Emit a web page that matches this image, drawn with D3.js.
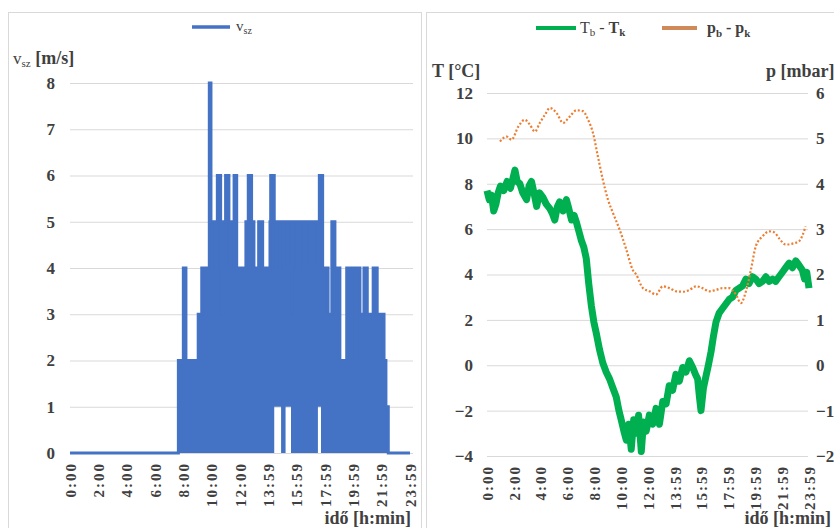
<!DOCTYPE html>
<html>
<head>
<meta charset="utf-8">
<script src="https://cdn.jsdelivr.net/npm/d3@7/dist/d3.min.js"></script>
<style>
body{margin:0;background:#fff;}
text{font-family:"Liberation Serif","Times New Roman",serif;}
</style>
</head>
<body>
<div id="chartplace"></div>
<script>
// time axis: minutes from midnight, labels as in the original
var tickMinutes = [0,120,240,360,480,600,720,840,960,1080,1200,1320,1440];
var tickLabels = ["0:00","2:00","4:00","6:00","8:00","10:00","12:00","13:59","15:59","17:59","19:59","21:59","23:59"];

// wind speed v_sz [m/s], step values (upper and lower edge of the drawn band)
var windMinute = [0,459,480,491,543,558,590,597,614,624,638,644,647,649,659,673,682,695,706,745,755,769,779,799,816,847,850,865,872,875,894,901,906,913,935,936,939,941,943,960,971,988,992,1013,1024,1047,1050,1056,1063,1070,1093,1109,1122,1143,1172,1207,1215,1228,1245,1259,1284,1301,1330,1338,1348,1440];
var windHigh   = [0,2,4,2,3,4,8,5,4,6,4,3,4,5,6,4,5,6,4,5,6,5,4,5,4,5,6,5,4,5,5,4,5,5,4,4,3,4,5,4,5,4,5,4,5,4,4,6,6,4,3,5,4,2,4,2,4,3,4,3,4,3,2,1,0,0];
var windLow    = [0,0,0,0,0,0,0,0,0,0,0,0,0,0,0,0,0,0,0,0,0,0,0,0,0,0,0,1,1,1,0,0,0,1,1,0,0,0,0,0,0,0,0,0,0,0,1,1,0,0,0,0,0,0,0,0,0,0,0,0,0,0,0,0,0,0];
var windTicks = [0,1,2,3,4,5,6,7,8];

// T_b - T_k [°C]
var tempMinute = [0,10,20,30,40,50,60,75,90,105,115,125,135,147,160,177,188,199,210,222,235,250,265,281,292,303,315,325,340,355,366,378,390,400,411,422,433,444,455,467,478,489,503,518,533,548,563,578,590,600,612,623,634,645,656,667,678,690,700,712,726,741,756,771,786,801,815,830,845,860,875,890,905,920,932,942,950,957,968,979,990,1002,1013,1024,1038,1053,1068,1083,1098,1113,1128,1143,1158,1172,1187,1202,1217,1232,1247,1262,1277,1291,1306,1321,1336,1351,1366,1381,1396,1410,1420,1430,1440];
var tempDiff   = [7.7,7.3,7.5,6.8,7.1,7.6,7.9,7.7,8.1,7.8,8.2,8.6,8.1,8.0,7.6,7.3,7.9,8.1,7.6,7.0,7.6,7.4,7.1,6.9,6.7,6.4,7.0,7.2,6.8,7.3,6.9,6.4,6.6,6.3,5.9,5.5,5.2,4.7,3.6,2.6,1.9,1.4,0.7,0.1,-0.3,-0.6,-1.0,-1.4,-2.0,-2.4,-2.9,-3.3,-2.6,-3.7,-2.4,-3.0,-2.2,-3.8,-2.5,-2.9,-2.2,-2.6,-1.9,-2.6,-1.6,-1.7,-0.9,-1.1,-0.4,-0.7,-0.1,-0.3,0.2,-0.1,-0.4,-0.6,-1.4,-2.0,-1.0,-0.5,0.0,0.6,1.3,1.9,2.3,2.5,2.7,2.9,3.0,3.3,3.4,3.5,3.8,3.6,3.9,3.8,3.6,3.7,3.9,3.7,3.8,3.7,3.9,4.1,4.3,4.5,4.3,4.6,4.4,4.2,3.8,4.1,3.4];
var tempTicks = [-4,-2,0,2,4,6,8,10,12];

// p_b - p_k [mbar]
var presMinute = [58,88,110,140,169,192,214,236,259,281,311,340,370,400,429,452,474,496,518,541,563,593,623,652,667,697,727,756,786,816,846,875,905,935,964,994,1024,1053,1083,1113,1135,1158,1180,1202,1232,1262,1284,1306,1336,1366,1395,1425];
var presDiff   = [4.93,5.04,4.97,5.26,5.41,5.3,5.15,5.34,5.52,5.67,5.56,5.34,5.48,5.62,5.6,5.41,5.12,4.6,4.09,3.65,3.36,2.99,2.55,2.1,2.0,1.7,1.63,1.56,1.74,1.7,1.63,1.62,1.66,1.74,1.7,1.63,1.66,1.7,1.7,1.56,1.37,1.63,2.1,2.62,2.84,2.95,2.93,2.8,2.66,2.68,2.73,3.06];
var presTicks = [-2,-1,0,1,2,3,4,5,6];

var width = 834;
var height = 528;
var textColor = "#404040";
var gridColor = "#d9d9d9";

var svg = d3.select("#chartplace").append("svg")
	.attr("width", width)
	.attr("height", height);

// panel frames
svg.append("rect").attr("x", 8.5).attr("y", 12.5).attr("width", 413).attr("height", 530)
	.attr("fill", "#fff").attr("stroke", gridColor);
svg.append("rect").attr("x", 426.5).attr("y", 12.5).attr("width", 420).attr("height", 530)
	.attr("fill", "#fff").attr("stroke", gridColor);

// helper: horizontal gridlines from an axis
function grid(g, scale, ticks, x0, x1){
	g.append("g")
		.attr("transform", "translate(" + x0 + ",0)")
		.call(d3.axisLeft(scale).tickValues(ticks).tickSize(-(x1 - x0)).tickFormat(""))
		.call(function(a){ a.select(".domain").remove(); })
		.selectAll("line").attr("stroke", gridColor);
}

// helper: rotated time labels under a plot
function timeAxis(g, scale, y0){
	var ax = g.append("g")
		.attr("transform", "translate(0," + y0 + ")")
		.attr("color", textColor)
		.call(d3.axisBottom(scale).tickValues(tickMinutes).tickSize(0)
			.tickFormat(function(d, i){ return tickLabels[i]; }));
	ax.select(".domain").remove();
	ax.selectAll("text")
		.attr("transform", "rotate(-90)")
		.attr("text-anchor", "end")
		.attr("x", -9).attr("y", 0).attr("dy", "0.35em")
		.attr("font-size", 15).attr("font-weight", "bold")
		.style("letter-spacing", "2px")
		.style("font-family", "'Liberation Serif', serif");
}

function valueAxis(g, axis, x){
	var ax = g.append("g")
		.attr("transform", "translate(" + x + ",0)")
		.attr("color", textColor)
		.call(axis);
	ax.select(".domain").remove();
	ax.selectAll("text")
		.attr("font-size", 17).attr("font-weight", "bold")
		.style("font-family", "'Liberation Serif', serif");
}

// ---------- left chart: wind speed ----------
var left = svg.append("g");
var xW = d3.scaleLinear().domain([0, 1440]).range([70, 410]);
var yW = d3.scaleLinear().domain([0, 8]).range([453, 83]);

grid(left, yW, windTicks, 70, 413);
valueAxis(left, d3.axisLeft(yW).tickValues(windTicks).tickSize(0).tickPadding(15), 70);
timeAxis(left, xW, 453);

var idx = d3.range(windMinute.length);
var windArea = d3.area()
	.curve(d3.curveStepAfter)
	.x(function(i){ return xW(windMinute[i]); })
	.y0(function(i){ return yW(windLow[i]); })
	.y1(function(i){ return yW(windHigh[i]); });
var windLine = d3.line()
	.curve(d3.curveStepAfter)
	.x(function(i){ return xW(windMinute[i]); })
	.y(function(i){ return yW(windHigh[i]); });

left.append("path").attr("d", windArea(idx)).attr("fill", "#4472c4");
left.append("path").attr("d", windLine(idx))
	.attr("fill", "none").attr("stroke", "#4472c4").attr("stroke-width", 3);

// legend and titles
left.append("line").attr("x1", 192).attr("x2", 230).attr("y1", 27).attr("y2", 27)
	.attr("stroke", "#4472c4").attr("stroke-width", 3.5);
var lt = left.append("text").attr("x", 236).attr("y", 31).attr("fill", textColor).attr("font-size", 15);
lt.append("tspan").text("v");
lt.append("tspan").attr("dy", 3).attr("font-size", 10).text("sz");

var yt = left.append("text").attr("x", 13).attr("y", 64).attr("fill", textColor).attr("font-size", 17);
yt.append("tspan").text("v");
yt.append("tspan").attr("dy", 3).attr("font-size", 11).text("sz");
yt.append("tspan").attr("dy", -3).attr("font-weight", "bold").attr("font-size", 18).text(" [m/s]");

left.append("text").attr("x", 411).attr("y", 524).attr("text-anchor", "end")
	.attr("fill", textColor).attr("font-size", 18).attr("font-weight", "bold").text("idő [h:min]");

// ---------- right chart: temperature and pressure difference ----------
var right = svg.append("g");
var xT = d3.scaleLinear().domain([0, 1440]).range([487, 809]);
var yT = d3.scaleLinear().domain([-4, 12]).range([456, 93]);
var yP = d3.scaleLinear().domain([-2, 6]).range([456, 93]);

grid(right, yT, tempTicks, 487, 808);
valueAxis(right, d3.axisLeft(yT).tickValues(tempTicks).tickSize(0).tickPadding(14), 487);
valueAxis(right, d3.axisRight(yP).tickValues(presTicks).tickSize(0).tickPadding(8), 808);
timeAxis(right, xT, 456);

var tempLine = d3.line()
	.x(function(d, i){ return xT(tempMinute[i]); })
	.y(function(d){ return yT(d); });
right.append("path").attr("d", tempLine(tempDiff))
	.attr("fill", "none").attr("stroke", "#00b050").attr("stroke-width", 7)
	.attr("stroke-linejoin", "round");

var presLine = d3.line()
	.curve(d3.curveMonotoneX)
	.x(function(d, i){ return xT(presMinute[i]); })
	.y(function(d){ return yP(d); });
right.append("path").attr("d", presLine(presDiff))
	.attr("fill", "none").attr("stroke", "#ed7d31").attr("stroke-width", 2.2)
	.attr("stroke-dasharray", "2,2");

// legend
right.append("line").attr("x1", 536).attr("x2", 576).attr("y1", 28).attr("y2", 28)
	.attr("stroke", "#00b050").attr("stroke-width", 4);
var tl = right.append("text").attr("x", 580).attr("y", 33).attr("fill", textColor).attr("font-size", 16);
tl.append("tspan").text("T");
tl.append("tspan").attr("dy", 3).attr("font-size", 11).text("b");
tl.append("tspan").attr("dy", -3).text(" - ");
tl.append("tspan").attr("font-weight", "bold").text("T");
tl.append("tspan").attr("dy", 3).attr("font-size", 11).attr("font-weight", "bold").text("k");

right.append("line").attr("x1", 662).attr("x2", 697).attr("y1", 28).attr("y2", 28)
	.attr("stroke", "#d08a5a").attr("stroke-width", 4);
var pl = right.append("text").attr("x", 707).attr("y", 33).attr("fill", textColor)
	.attr("font-size", 16).attr("font-weight", "bold");
pl.append("tspan").text("p");
pl.append("tspan").attr("dy", 4).attr("font-size", 11).text("b");
pl.append("tspan").attr("dy", -4).text("  - p");
pl.append("tspan").attr("dy", 4).attr("font-size", 11).text("k");

right.append("text").attr("x", 432).attr("y", 77).attr("fill", textColor)
	.attr("font-size", 18).attr("font-weight", "bold").text("T [°C]");
right.append("text").attr("x", 766).attr("y", 77).attr("fill", textColor)
	.attr("font-size", 18).attr("font-weight", "bold").text("p [mbar]");
right.append("text").attr("x", 831).attr("y", 524).attr("text-anchor", "end")
	.attr("fill", textColor).attr("font-size", 18).attr("font-weight", "bold").text("idő [h:min]");
</script>
</body>
</html>
